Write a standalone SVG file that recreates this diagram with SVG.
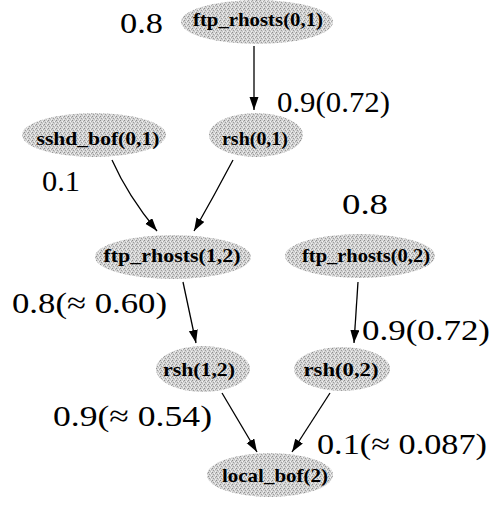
<svg xmlns="http://www.w3.org/2000/svg" width="491" height="505" viewBox="0 0 491 505">
<style>
.node ellipse{fill:url(#grain);stroke:none}
.node text{font-family:"Liberation Serif",serif;font-weight:bold;font-size:18px;fill:#000;text-anchor:middle}
.lbl{font-family:"Liberation Serif",serif;font-size:30px;fill:#000}
.edge{fill:none;stroke:#000;stroke-width:1.3;marker-end:url(#ah)}
</style>
<defs>
<pattern id="grain" width="4" height="4" patternUnits="userSpaceOnUse">
<rect width="4" height="4" fill="#d4d4d4"/>
<rect x="0" y="0" width="1" height="1" fill="#8e8e8e"/>
<rect x="2" y="1" width="1" height="1" fill="#f4f4f4"/>
<rect x="1" y="2" width="1" height="1" fill="#9c9c9c"/>
<rect x="3" y="3" width="1" height="1" fill="#f0f0f0"/>
<rect x="3" y="1" width="1" height="1" fill="#aaaaaa"/>
<rect x="2" y="3" width="1" height="1" fill="#bdbdbd"/>
</pattern>
<marker id="ah" markerUnits="userSpaceOnUse" markerWidth="14" markerHeight="10" refX="13" refY="4.5" orient="auto">
<path d="M0,0 L13,4.5 L0,9 z" fill="#000"/>
</marker>
</defs>
<g id="edges">
<path class="edge" d="M254,46 L254,110"/>
<path class="edge" d="M112,160 Q128,196 157,231"/>
<path class="edge" d="M233,160 Q214,196 194,231"/>
<path class="edge" d="M183,282 L196,343"/>
<path class="edge" d="M358,282 L354,343"/>
<path class="edge" d="M222,393 L257,452"/>
<path class="edge" d="M330,393 L292,452"/>
</g>
<g id="n_ftp01" class="node"><ellipse cx="257" cy="22" rx="76" ry="22"/><text x="258" y="26" textLength="130" lengthAdjust="spacingAndGlyphs">ftp_rhosts(0,1)</text></g>
<g id="n_sshd01" class="node"><ellipse cx="94" cy="135" rx="72" ry="22"/><text x="98" y="145" textLength="123" lengthAdjust="spacingAndGlyphs">sshd_bof(0,1)</text></g>
<g id="n_rsh01" class="node"><ellipse cx="256" cy="135" rx="47" ry="22"/><text x="255" y="145" textLength="66" lengthAdjust="spacingAndGlyphs">rsh(0,1)</text></g>
<g id="n_ftp12" class="node"><ellipse cx="173" cy="257" rx="78" ry="22"/><text x="172" y="262" textLength="137" lengthAdjust="spacingAndGlyphs">ftp_rhosts(1,2)</text></g>
<g id="n_ftp02" class="node"><ellipse cx="360" cy="256" rx="75" ry="22"/><text x="366" y="262" textLength="128" lengthAdjust="spacingAndGlyphs">ftp_rhosts(0,2)</text></g>
<g id="n_rsh12" class="node"><ellipse cx="203" cy="369" rx="47" ry="23"/><text x="199" y="376" textLength="72" lengthAdjust="spacingAndGlyphs">rsh(1,2)</text></g>
<g id="n_rsh02" class="node"><ellipse cx="342" cy="369" rx="48" ry="22"/><text x="341" y="376" textLength="75" lengthAdjust="spacingAndGlyphs">rsh(0,2)</text></g>
<g id="n_local2" class="node"><ellipse cx="270" cy="475" rx="63" ry="22"/><text x="275" y="482" textLength="106" lengthAdjust="spacingAndGlyphs">local_bof(2)</text></g>
<g id="labels">
<text class="lbl" x="120" y="33" textLength="43" lengthAdjust="spacingAndGlyphs">0.8</text>
<text class="lbl" x="277" y="112" textLength="113" lengthAdjust="spacingAndGlyphs">0.9(0.72)</text>
<text class="lbl" x="42" y="191" textLength="38" lengthAdjust="spacingAndGlyphs">0.1</text>
<text class="lbl" x="342" y="214" textLength="46" lengthAdjust="spacingAndGlyphs">0.8</text>
<text class="lbl" x="12" y="313" textLength="155" lengthAdjust="spacingAndGlyphs">0.8(≈ 0.60)</text>
<text class="lbl" x="362" y="340" textLength="128" lengthAdjust="spacingAndGlyphs">0.9(0.72)</text>
<text class="lbl" x="53" y="426" textLength="159" lengthAdjust="spacingAndGlyphs">0.9(≈ 0.54)</text>
<text class="lbl" x="317" y="454" textLength="170" lengthAdjust="spacingAndGlyphs">0.1(≈ 0.087)</text>
</g>
</svg>
